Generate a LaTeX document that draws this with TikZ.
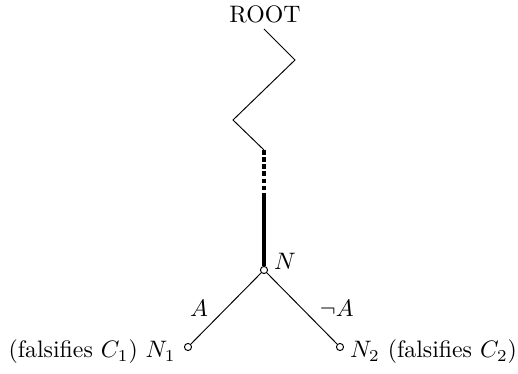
\documentclass[tikz,border=0pt]{standalone}
\usetikzlibrary{positioning}

\tikzset{
  leaf/.style={draw, circle, fill=white, inner sep=0pt, minimum size=3pt, line width=0.4pt},
  branch/.style={line width=0.4pt},
  path/.style={line width=1.3pt}
}

\begin{document}
\begin{tikzpicture}[x=0.42pt, y=-0.42pt]
    \useasboundingbox (0,0) rectangle (518,374);
    \node (root) at (265,14) {ROOT};
    \coordinate (z0) at (264,29);
    \coordinate (z1) at (295,60);
    \coordinate (z2) at (233,120);
    \coordinate (z3) at (264,150);
    \coordinate (z4) at (264,198);
    \node[leaf] (n) at (264,270) {};
    \node[leaf] (n1) at (188,347) {};
    \node[leaf] (n2) at (340,347) {};
    % path from the root down to N
    \draw[branch] (z0) -- (z1) -- (z2) -- (z3);
    \draw[path, dash pattern=on 2pt off 1pt] (z3) -- (z4);
    \draw[path] (z4) -- (n);
    % the two children
    \draw[branch] (n) -- node[midway, left=4pt] (la) {$A$} (n1);
    \draw[branch] (n) -- node[midway, right=4pt] (lna) {$\neg A$} (n2);
    \node[right=-1pt of n, yshift=3.5pt] (nlab) {$N$};
    \node[left=0pt of n1, yshift=-2pt] (n1lab) {(falsifies $C_1$) $N_1$};
    \node[right=-1pt of n2, yshift=-2pt] (n2lab) {$N_2$ (falsifies $C_2$)};
  \end{tikzpicture}
\end{document}
